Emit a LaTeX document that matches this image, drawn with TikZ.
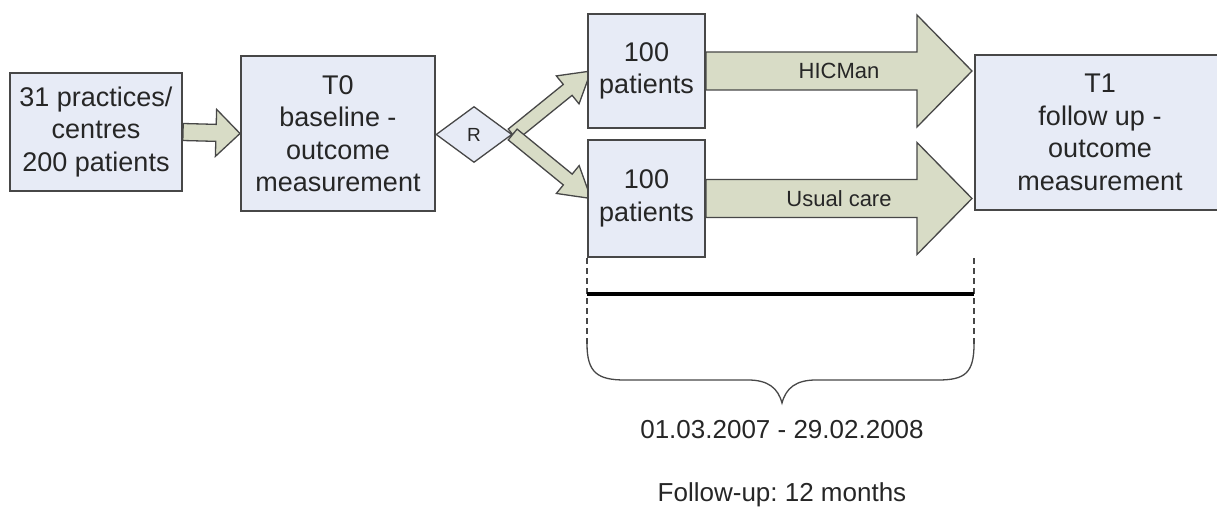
\documentclass[tikz,border=0pt]{standalone}
\usepackage{fontspec}
\setmainfont{Liberation Sans}
\usetikzlibrary{calc,backgrounds,shapes.geometric}
\definecolor{ink}{HTML}{262626}
\definecolor{edge}{HTML}{474747}
\definecolor{boxf}{HTML}{E7EBF6}
\definecolor{arrf}{HTML}{D8DCC6}
\tikzset{
  box/.style={draw=edge,fill=boxf,line width=2pt,align=center,inner sep=0pt,text=ink,font=\fontsize{27}{32.5}\selectfont},
  dia/.style={diamond,draw=edge,fill=boxf,line width=1.3pt,inner sep=0pt,minimum width=76pt,minimum height=56pt,font=\fontsize{19}{21}\selectfont,text=ink},
  fat/.style={fill=arrf,draw=edge,line width=1.3pt,line join=miter},
  lab/.style={font=\fontsize{22}{24}\selectfont,text=ink,inner sep=0pt},
  note/.style={font=\fontsize{26}{28}\selectfont,text=ink,inner sep=0pt},
  guide/.style={draw=edge,line width=1.4pt,dash pattern=on 6pt off 4pt},
  period/.style={draw=black,line width=4pt},
  curly/.style={draw=edge,line width=1.3pt}
}
% fat block arrow: tail, tip, shaft half width, head half width, head length
\newcommand{\fatarr}[5]{%
  \coordinate (fa-b) at ($(#2)!#5!(#1)$);
  \draw[fat] ($(#1)!#3!90:(#2)$) -- ($(fa-b)!#3!90:(#2)$) -- ($(fa-b)!#4!90:(#2)$) -- (#2)
    -- ($(fa-b)!#4!-90:(#2)$) -- ($(fa-b)!#3!-90:(#2)$) -- ($(#1)!#3!-90:(#2)$) -- cycle;}

\begin{document}
\frenchspacing
\begin{tikzpicture}[x=1pt,y=-1pt]
\useasboundingbox (0,0) rectangle (1217,508);
\clip (0,0) rectangle (1217,508);
% ===================== boxes =====================
\node[box,minimum width=172pt,minimum height=117pt] (src) at (96,132) {31 practices/\\centres\\200 patients};
\node[box,minimum width=194pt,minimum height=155pt] (base) at (338,133.5) {T0\\baseline -\\outcome\\measurement};
\node[dia] (rnd) at (474,134.5) {R};
\node[box,minimum width=117pt,minimum height=114pt] (grpa) at (646.5,71) {100\\patients};
\node[box,minimum width=117pt,minimum height=117pt] (grpb) at (646.5,198.5) {100\\patients};
\node[box,minimum width=250pt,minimum height=155pt] (follow) at (1100,132.5) {T1\\follow up -\\outcome\\measurement};
% ===================== block arrows =====================
\coordinate (tipa) at ([xshift=4pt]grpa.west);
\coordinate (tipb) at ([xshift=4pt]grpb.west);
\coordinate (tipc) at ([xshift=-2pt]follow.west|-grpa.east);
\coordinate (tipd) at ([xshift=-2pt]follow.west|-grpb.east);
\begin{scope}[on background layer]
\fatarr{src.east}{base.west}{8.5pt}{23.5pt}{24pt}
\fatarr{rnd.east}{tipa}{7pt}{18pt}{30pt}
\fatarr{rnd.east}{tipb}{7pt}{18pt}{30pt}
\fatarr{grpa.east}{tipc}{19pt}{56pt}{55pt}
\fatarr{grpb.east}{tipd}{19pt}{56pt}{55pt}
\end{scope}
\node[lab] (hic) at ($(grpa.east)!0.5!(tipc)$) {HICMan};
\node[lab] (usual) at ($(grpb.east)!0.5!(tipd)$) {Usual care};
% ===================== follow-up period =====================
\coordinate (pl) at (grpb.south west);
\coordinate (pr) at (follow.west|-grpb.south);
\draw[guide] (pl) -- ++(0,86);
\draw[guide] (pr) -- ++(0,86);
\draw[period] ($(pl)+(0,36)$) -- ($(pr)+(0,36)$);
\draw[curly] ($(pl)+(0,86)$) .. controls ++(0,29) and (598,380) .. (625,380) -- (748,380)
  .. controls (768,380) and (778,388) .. (782,403) .. controls (786,388) and (796,380) .. (816,380)
  -- (938,380) .. controls (965,380) and ($(pr)+(0,115)$) .. ($(pr)+(0,86)$);
\node[note] (dates) at (782,430) {01.03.2007 - 29.02.2008};
\node[note] (dur) at (782,495) {Follow-up: 12 months};
\end{tikzpicture}
\end{document}
